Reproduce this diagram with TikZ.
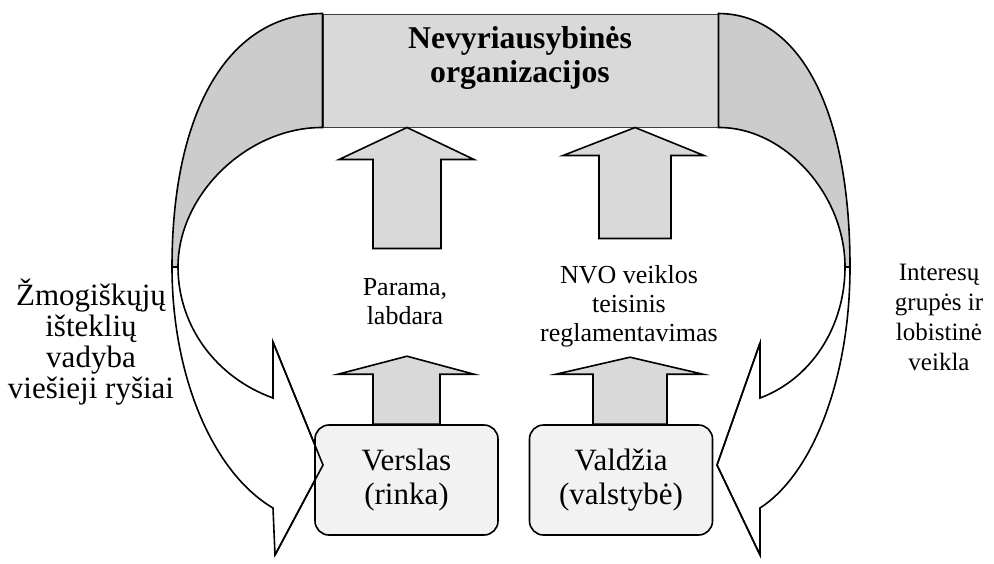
\documentclass[tikz,border=0pt]{standalone}
\usepackage{fontspec}
\setmainfont{Liberation Serif}
\usetikzlibrary{positioning}
\definecolor{NgoGray}{RGB}{217,217,217}
\definecolor{BackGray}{RGB}{204,204,204}
\definecolor{SectorFill}{RGB}{242,242,242}
\definecolor{FrameGray}{RGB}{64,64,64}
\tikzset{
  ngobox/.style={draw=FrameGray,fill=NgoGray,line width=0.5pt,minimum width=197.5pt,minimum height=56.5pt,inner sep=0pt},
  ngotitle/.style={align=center,inner sep=0pt,font=\bfseries\fontsize{15.85}{17}\selectfont},
  sectorbox/.style={draw,fill=SectorFill,line width=0.8pt,rounded corners=7pt,minimum width=91.5pt,minimum height=55pt,align=center,inner sep=0pt,font=\fontsize{15.5}{17}\selectfont},
  blockarrow/.style={draw,fill=NgoGray,line width=0.8pt},
  bendarrow/.style={draw,fill=white,line width=0.8pt},
  backband/.style={draw,fill=BackGray,line width=0.8pt},
  tipline/.style={draw,line width=0.8pt},
  midlabel/.style={align=center,inner sep=0pt,font=\fontsize{13}{14.5}\selectfont},
  leftlabel/.style={align=center,inner sep=0pt,font=\fontsize{15.5}{15.5}\selectfont},
  rightlabel/.style={align=center,inner sep=0pt,font=\fontsize{12.5}{15}\selectfont}
}

\begin{document}
\begin{tikzpicture}[x=0.5pt,y=-0.5pt]
\useasboundingbox (0,0) rectangle (994,563);

% curved arrows, back side first
\draw[bendarrow] (172,267) .. controls (172,375) and (212,472) .. (273,508) -- (275,555)
  -- (323,465) coordinate (lefttip) -- (273,342) -- (273,398)
  .. controls (215,377) and (178,325) .. (178,267) -- cycle;
\draw[bendarrow] (850,267) .. controls (850,376) and (814,473) .. (760,508) -- (760,555)
  -- (717,465) coordinate (righttip) -- (760,343) -- (760,398)
  .. controls (811,379) and (845,327) .. (845,267) -- cycle;

\node[ngobox] (ngo) at (520.5,70.5) {};
\node[ngotitle] (ngotext) at (520,58) {Nevyriausybinės\\organizacijos};

\draw[backband] (ngo.north west) .. controls (229,14) and (172,110) .. (172,267) -- (178,267)
  .. controls (178,194) and (248,127) .. (ngo.south west) -- cycle;
\draw[backband] (ngo.north east) .. controls (800,14) and (850,110) .. (850,267) -- (845,267)
  .. controls (845,194) and (784,127) .. (ngo.south east) -- cycle;

% big arrows into the NGO box
\draw[blockarrow] ([xshift=-56.75pt]ngo.south) -- ++(67,32) -- ++(-33,0) -- ++(0,89)
  -- ++(-68,0) -- ++(0,-89) -- ++(-34,0) -- cycle;
\draw[blockarrow] ([xshift=57.25pt]ngo.south) -- ++(69,28) -- ++(-33,0) -- ++(0,83)
  -- ++(-72,0) -- ++(0,-83) -- ++(-36,0) -- cycle;

\node[sectorbox] (biz) at (406.5,480) {Verslas\\(rinka)};
\node[sectorbox] (gov) at (621,480) {Valdžia\\(valstybė)};

% small arrows out of the sectors
\draw[blockarrow] ([xshift=-16.75pt]biz.north) -- ++(0,-50) -- ++(-35,0) -- ++(69,-18)
  -- ++(67,18) -- ++(-34,0) -- ++(0,50) -- cycle;
\draw[blockarrow] ([xshift=-14pt]gov.north) -- ++(0,-50) -- ++(-37,0) -- ++(74,-17)
  -- ++(73,17) -- ++(-36,0) -- ++(0,50) -- cycle;

% arrow tips over the boxes
\draw[tipline] (275,555) -- (lefttip) -- (273,342);
\draw[tipline] (760,555) -- (righttip) -- (760,343);

\node[midlabel] (gift) at (405,302) {Parama,\\labdara};
\node[midlabel] (law) at (629,306) {NVO veiklos\\teisinis\\reglamentavimas};
\node[leftlabel] (hrm) at (91,342) {Žmogiškųjų\\išteklių\\vadyba\\viešieji ryšiai};
\node[rightlabel] (lobby) at (939,317) {Interesų\\grupės ir\\lobistinė\\veikla};
\end{tikzpicture}
\end{document}
